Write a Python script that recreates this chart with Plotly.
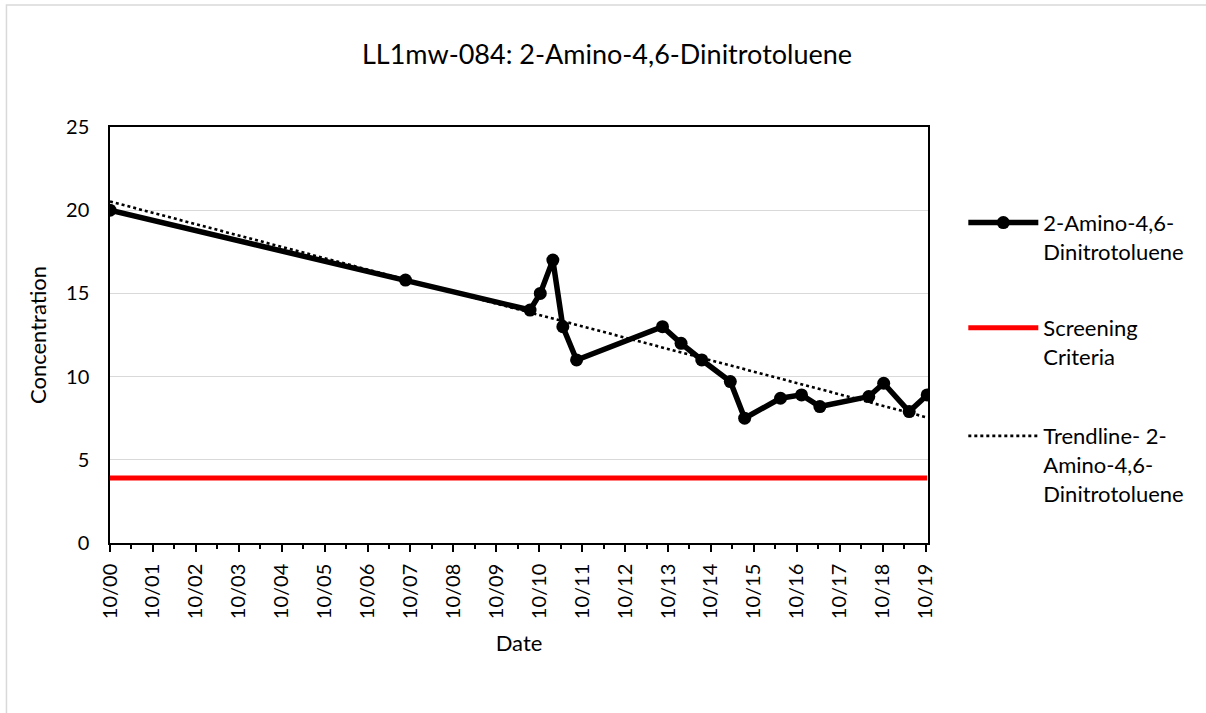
import numpy as np
import pandas as pd
import plotly.graph_objects as go

# ---- data ----
dates = ["2000-10-01", "2007-08-20", "2010-07-15", "2010-10-10", "2011-01-25",
         "2011-04-20", "2011-08-15", "2013-08-15", "2014-01-20", "2014-07-15",
         "2015-03-15", "2015-07-15", "2016-05-15", "2016-11-10", "2017-04-15",
         "2018-06-05", "2018-10-10", "2019-05-15", "2019-10-15"]
conc = [20.0, 15.8, 14.0, 15.0, 17.0, 13.0, 11.0, 13.0, 12.0, 11.0,
        9.7, 7.5, 8.7, 8.9, 8.2, 8.8, 9.6, 7.9, 8.9]
screening_value = 3.9
series_name = "2-Amino-4,6-<br>Dinitrotoluene"
screen_name = "Screening<br>Criteria"
trend_name = "Trendline- 2-<br>Amino-4,6-<br>Dinitrotoluene"
title_text = "LL1mw-084: 2-Amino-4,6-Dinitrotoluene"
x_range = ["2000-10-01", "2019-10-22"]

# ---- derived ----
dt = pd.to_datetime(dates)
xnum = (dt - dt[0]).days.values.astype(float)
slope, intercept = np.polyfit(xnum, np.array(conc), 1)
trend_x = [dt[0], dt[-1]]
trend_y = [intercept + slope * xnum[0], intercept + slope * xnum[-1]]

FONT = "Lato"
W, H = 1206, 713
L, R, T, B = 110, 927.7, 127.3, 542.7

def px_x(p):
    return (p - L) / (R - L)

def px_y(p):
    return (B - p) / (B - T)

fig = go.Figure()
fig.add_trace(go.Scatter(
    x=dt, y=conc, mode="lines+markers", name=series_name,
    line=dict(color="black", width=5.5),
    marker=dict(color="black", size=13),
    legend="legend"))
fig.add_trace(go.Scatter(
    x=[dt[0], dt[-1]], y=[screening_value, screening_value], mode="lines",
    name=screen_name, line=dict(color="#ff0000", width=5),
    legend="legend2"))
fig.add_trace(go.Scatter(
    x=trend_x, y=trend_y, mode="lines", name=trend_name,
    line=dict(color="black", width=2.6, dash="dot"),
    legend="legend3"))

leg_common = dict(font=dict(family=FONT, size=22, color="black"),
                  bgcolor="rgba(0,0,0,0)", xanchor="left", yanchor="top",
                  valign="top", itemwidth=70)

fig.update_layout(
    width=W, height=H,
    margin=dict(l=L, r=W - R, t=T, b=H - B),
    paper_bgcolor="white", plot_bgcolor="white",
    font=dict(family=FONT, color="black"),
    title=dict(text=title_text, x=607 / W, xanchor="center",
               y=1 - 55 / H, yanchor="middle",
               font=dict(family=FONT, size=27, color="black")),
    showlegend=True,
    legend=dict(x=px_x(963), y=px_y(202), **leg_common),
    legend2=dict(x=px_x(963), y=px_y(307), **leg_common),
    legend3=dict(x=px_x(963), y=px_y(415), **leg_common),
    xaxis=dict(type="date", range=x_range, showgrid=False,
               showline=True, linecolor="black", linewidth=1.5, mirror=True,
               ticks="outside", ticklen=7, tickwidth=1.5, tickcolor="black",
               tick0="2000-10-01", dtick="M12", tickformat="%m/%y",
               tickangle=-90, ticklabelstandoff=4,
               tickfont=dict(family=FONT, size=20, color="black"),
               minor=dict(ticks="outside", ticklen=4, tickwidth=1.5,
                          tickcolor="black", dtick="M6", tick0="2000-10-01"),
               title=dict(text="Date", standoff=17,
                          font=dict(family=FONT, size=22, color="black")),
               zeroline=False),
    yaxis=dict(range=[0, 25], dtick=5, showgrid=True, gridcolor="#d9d9d9",
               gridwidth=1.3, showline=True, linecolor="black", linewidth=1.5,
               mirror=True, ticks="", ticklabelstandoff=15,
               tickfont=dict(family=FONT, size=20, color="black"),
               title=dict(text="Concentration", standoff=13,
                          font=dict(family=FONT, size=22, color="black")),
               zeroline=False),
    shapes=[dict(type="rect", xref="paper", yref="paper",
                 x0=px_x(6.5), x1=px_x(1230), y0=px_y(740), y1=px_y(5.5),
                 line=dict(color="#d9d9d9", width=1.5), layer="below")],
)

fig.write_html("out.html", config={"displayModeBar": False},
               post_script="document.body.style.margin='0';")
